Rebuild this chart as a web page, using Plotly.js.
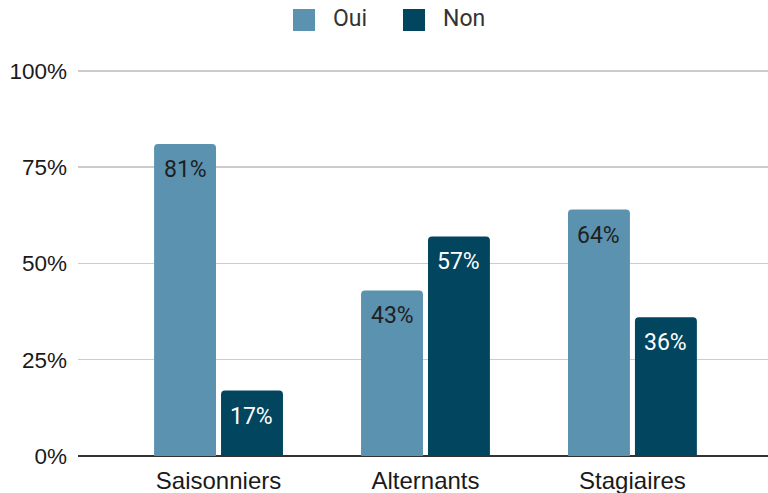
<!DOCTYPE html>
<html>
<head>
<meta charset="utf-8">
<script src="https://cdn.plot.ly/plotly-3.0.1.min.js"></script>
<style>html,body{margin:0;padding:0;background:#fff}#chart{width:768px;height:493px}</style>
</head>
<body>
<div id="chart"></div>
<script>
const categories = ['Saisonniers', 'Alternants', 'Stagiaires'];
const seriesNames = ['Oui', 'Non'];
const ouiValues = [81, 43, 64];
const nonValues = [17, 57, 36];
const yTickVals = [0, 25, 50, 75, 100];
const yTickText = ['0%', '25%', '50%', '75%', '100%'];

const colors = ['#5a92b0', '#02455f'];
const labelColors = ['#1f1f1f', '#ffffff'];
const FONT = 'Roboto, Arial, sans-serif';
const AXFONT = '"Liberation Sans", Arial, sans-serif';

const W = 768, H = 493;
const M = {l: 78, r: 0, t: 67, b: 37};
const xRange = [-0.679, 2.655];
const yRange = [0, 101];
const bargap = 0.353, bargroupgap = 0.075;
const plotW = W - M.l - M.r, plotH = H - M.t - M.b;
const pxPerUnit = plotW / (xRange[1] - xRange[0]);
const slotPx = (1 - bargap) / 2 * pxPerUnit;

const px2x = p => (p - M.l) / plotW;
const py2y = p => (H - M.b - p) / plotH;

const allValues = [ouiValues, nonValues];
const traces = allValues.map((vals, i) => ({
  type: 'bar',
  name: seriesNames[i],
  x: categories,
  y: vals,
  marker: {color: colors[i]},
  hoverinfo: 'skip',
  showlegend: false
}));

const annotations = [];
allValues.forEach((vals, i) => {
  vals.forEach((v, j) => {
    annotations.push({
      x: categories[j], y: v, xref: 'x', yref: 'y',
      xshift: (i === 0 ? -1 : 1) * slotPx / 2,
      yshift: -10,
      yanchor: 'top', xanchor: 'center',
      text: v + '%', showarrow: false,
      font: {family: FONT, size: 23, color: labelColors[i]}
    });
  });
});

// manual legend
const shapes = [];
const legendSquares = [293, 403];
const legendTexts = [331, 441];
seriesNames.forEach((n, i) => {
  shapes.push({
    type: 'rect', xref: 'paper', yref: 'paper',
    x0: px2x(legendSquares[i]), x1: px2x(legendSquares[i] + 22),
    y0: py2y(31), y1: py2y(9),
    fillcolor: colors[i], line: {width: 0}
  });
  annotations.push({
    xref: 'paper', yref: 'paper', x: px2x(legendTexts[i]), y: py2y(19),
    xanchor: 'left', yanchor: 'middle', text: n, showarrow: false,
    font: {family: FONT, size: 23, color: '#333333'}
  });
});

const layout = {
  width: W, height: H,
  margin: M,
  paper_bgcolor: '#ffffff', plot_bgcolor: '#ffffff',
  barmode: 'group', bargap: bargap, bargroupgap: bargroupgap,
  barcornerradius: 4,
  showlegend: false,
  font: {family: FONT, size: 22, color: '#222222'},
  xaxis: {
    type: 'category', range: xRange, showgrid: false, zeroline: false,
    showline: false, ticks: '', ticklabelstandoff: 8,
    tickfont: {family: AXFONT, size: 24, color: '#1a1a1a'},
    fixedrange: true
  },
  yaxis: {
    range: yRange, tickvals: yTickVals, ticktext: yTickText,
    showgrid: true, gridcolor: '#cccccc', gridwidth: 1.5,
    zeroline: true, zerolinecolor: '#333333', zerolinewidth: 2,
    showline: false, ticks: '', ticklabelstandoff: 10,
    tickfont: {family: AXFONT, size: 22.5, color: '#1a1a1a'},
    fixedrange: true
  },
  annotations: annotations,
  shapes: shapes
};

Plotly.newPlot('chart', traces, layout, {displayModeBar: false, staticPlot: true});
</script>
</body>
</html>
